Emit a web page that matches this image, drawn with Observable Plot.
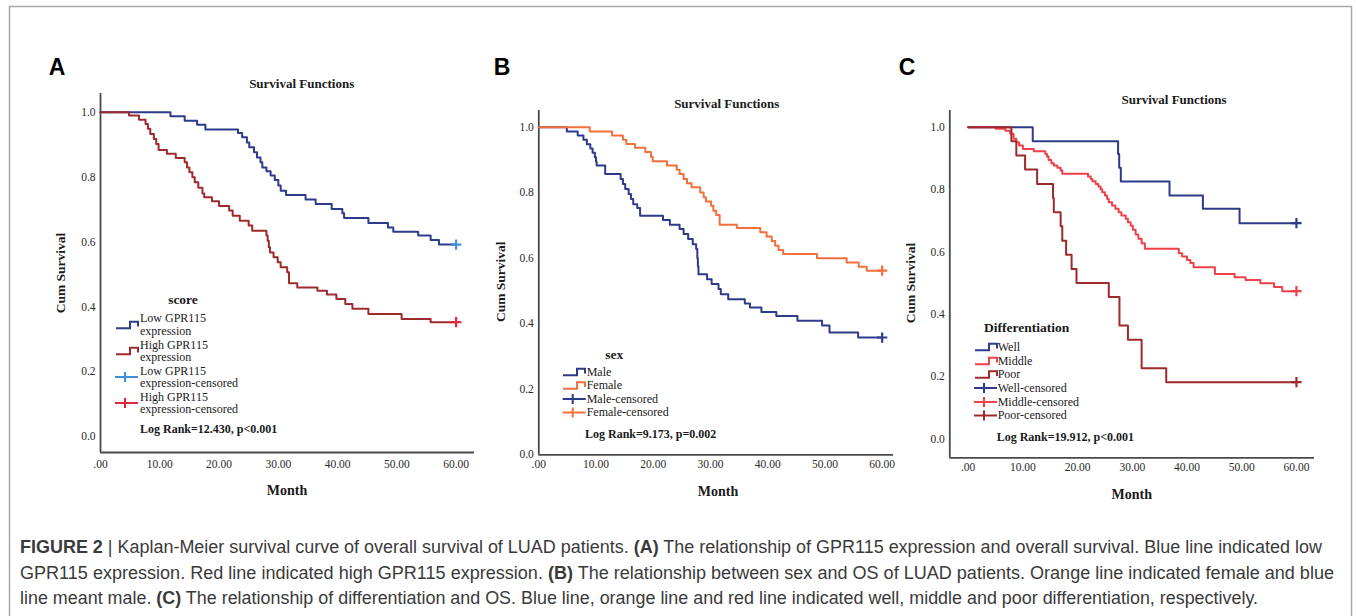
<!DOCTYPE html>
<html><head><meta charset="utf-8">
<script src="https://cdn.jsdelivr.net/npm/d3@7"></script>
<script src="https://cdn.jsdelivr.net/npm/@observablehq/plot@0.6"></script>
<style>
body{margin:0;background:#fff;}
#fig{position:relative;width:1357px;height:616px;overflow:hidden;background:#fff;}
#fig svg{position:absolute;left:0;top:0;}
</style></head><body><div id="fig"></div>
<script>
// ---------- tick labels ----------
const xTicks = [0, 10, 20, 30, 40, 50, 60];
const xTickLabels = [".00", "10.00", "20.00", "30.00", "40.00", "50.00", "60.00"];
const yTicks = [0, 0.2, 0.4, 0.6, 0.8, 1.0];
const yTickLabels = ["0.0", "0.2", "0.4", "0.6", "0.8", "1.0"];
const followUpEnd = 60;

// ---------- Panel A : score ----------
const aGroups = ["Low GPR115 expression", "High GPR115 expression"];
const aLowT = [11.8,14.2,16.3,17.7,23.2,23.9,24.7,25.1,25.9,26.4,27.0,27.3,28.0,28.7,29.4,30.0,30.4,31.3,34.6,36.3,39.0,40.8,41.1,45.2,48.5,49.4,53.6,55.7,57.1];
const aLowS = [0.988,0.974,0.962,0.947,0.936,0.923,0.907,0.892,0.877,0.861,0.846,0.830,0.818,0.805,0.791,0.774,0.758,0.745,0.731,0.717,0.702,0.689,0.674,0.659,0.645,0.632,0.620,0.606,0.592];
const aHighT = [4.8,6.5,7.6,8.0,8.4,9.0,9.4,9.8,11.2,12.7,14.2,14.6,15.0,15.5,15.9,16.5,17.2,17.5,18.8,20.0,21.7,22.3,23.5,25.0,25.6,28.0,28.2,28.4,28.6,29.2,29.9,30.4,31.5,31.8,33.2,36.6,38.2,39.8,41.3,42.5,45.2,50.8,55.7];
const aHighS = [0.990,0.977,0.964,0.949,0.933,0.918,0.902,0.884,0.872,0.859,0.846,0.830,0.815,0.800,0.784,0.767,0.750,0.738,0.726,0.711,0.697,0.681,0.666,0.651,0.635,0.620,0.604,0.584,0.568,0.553,0.538,0.522,0.507,0.473,0.460,0.450,0.438,0.424,0.409,0.394,0.378,0.363,0.353];
const aLogRank = "Log Rank=12.430, p<0.001";

// ---------- Panel B : sex ----------
const bGroups = ["Male", "Female"];
const bMaleT = [4.9,6.8,7.8,8.4,9.0,9.4,9.8,10.0,10.1,11.6,14.3,14.7,15.1,15.7,16.1,16.5,17.2,17.7,21.7,22.9,24.6,25.3,26.1,26.9,27.5,27.7,27.8,27.9,29.4,30.2,31.4,31.8,33.1,36.0,36.9,38.9,41.5,45.2,49.5,50.8,55.8];
const bMaleS = [0.987,0.975,0.962,0.948,0.935,0.922,0.908,0.895,0.883,0.857,0.842,0.827,0.811,0.796,0.781,0.765,0.753,0.730,0.717,0.702,0.689,0.674,0.659,0.643,0.628,0.600,0.575,0.551,0.536,0.521,0.506,0.490,0.475,0.462,0.450,0.436,0.424,0.409,0.395,0.373,0.358];
const bFemaleT = [8.9,12.8,14.7,15.3,16.8,18.6,19.6,19.9,22.4,24.1,24.6,25.3,25.9,26.7,28.2,28.8,29.2,30.1,30.5,31.0,31.6,34.6,38.7,39.8,40.7,41.3,41.9,42.7,48.6,53.8,55.9,57.3];
const bFemaleS = [0.987,0.975,0.962,0.949,0.937,0.924,0.910,0.896,0.883,0.870,0.857,0.842,0.829,0.817,0.801,0.786,0.773,0.760,0.745,0.732,0.702,0.692,0.679,0.666,0.653,0.638,0.625,0.613,0.600,0.587,0.574,0.562];
const bLogRank = "Log Rank=9.173, p=0.002";

// ---------- Panel C : differentiation ----------
const cGroups = ["Well", "Middle", "Poor"];
const cWellT = [11.8,27.4,27.6,27.9,36.8,42.9,49.6];
const cWellS = [0.955,0.914,0.870,0.826,0.781,0.738,0.692];
const cMiddleT = [5.0,6.8,7.7,8.3,8.8,9.3,10.0,12.0,14.1,14.4,14.7,15.2,15.65,16.3,16.9,17.2,21.9,22.4,22.7,23.3,23.8,24.2,24.5,25.0,25.4,25.7,26.3,26.9,27.5,28.0,28.8,29.2,29.7,30.1,30.6,31.1,31.7,32.3,38.5,39.1,40.0,40.6,41.2,45.1,48.7,50.7,53.4,55.9,57.4];
const cMiddleS = [0.995,0.989,0.979,0.963,0.952,0.941,0.930,0.923,0.914,0.906,0.895,0.884,0.877,0.870,0.861,0.851,0.842,0.834,0.827,0.818,0.810,0.801,0.791,0.781,0.770,0.759,0.749,0.738,0.727,0.717,0.706,0.695,0.684,0.671,0.656,0.642,0.628,0.610,0.596,0.585,0.574,0.564,0.551,0.529,0.519,0.510,0.499,0.487,0.474];
const cPoorT = [7.9,8.8,10.4,12.6,15.5,15.65,16.9,17.2,17.9,18.9,19.8,25.7,27.65,29.2,31.7,36.2];
const cPoorS = [0.955,0.909,0.864,0.818,0.773,0.727,0.682,0.636,0.591,0.545,0.500,0.455,0.364,0.318,0.227,0.182];
const cLogRank = "Log Rank=19.912, p<0.001";

// ---------- texts ----------
const panelLetters = ["A", "B", "C"];
const chartTitle = "Survival Functions";
const yLabel = "Cum Survival";
const xLabel = "Month";
const captionLines = [
  [["FIGURE 2", true], [" | Kaplan-Meier survival curve of overall survival of LUAD patients. ", false], ["(A)", true], [" The relationship of GPR115 expression and overall survival. Blue line indicated low", false]],
  [["GPR115 expression. Red line indicated high GPR115 expression. ", false], ["(B)", true], [" The relationship between sex and OS of LUAD patients. Orange line indicated female and blue", false]],
  [["line meant male. ", false], ["(C)", true], [" The relationship of differentiation and OS. Blue line, orange line and red line indicated well, middle and poor differentiation, respectively.", false]]
];

// ---------- colours ----------
const NAVY = "#2e3a8a", DARKRED = "#9f2a2d", LIGHTBLUE = "#3f8fdb", BRIGHTRED = "#dd2840", ORANGE = "#f3703d", PINKRED = "#ee414a";

const W = 1357, H = 520;
const fig = d3.select("#fig");
const ov = fig.append("svg").attr("width", 1357).attr("height", 616);
ov.append("rect").attr("x", 9.5).attr("y", 6.5).attr("width", 1342).attr("height", 640)
  .attr("fill", "none").attr("stroke", "#a8a8a8").attr("stroke-width", 1.5);

function txt(x, y, s, o = {}) {
  const t = ov.append("text").attr("x", x).attr("y", y).text(s)
    .attr("font-family", o.family || "'Liberation Serif', 'Times New Roman', serif")
    .attr("font-size", o.size || 12).attr("font-weight", o.weight || "normal")
    .attr("text-anchor", o.anchor || "start").attr("dominant-baseline", "central")
    .attr("fill", o.fill || "#1a1a1a");
  if (o.rotate) t.attr("transform", `rotate(${o.rotate},${x},${y})`);
  return t;
}
function stepSwatch(x0, y, color) {
  ov.append("path").attr("d", `M${x0},${y + 3.2}H${x0 + 14}V${y - 3.2}H${x0 + 22}V${y + 1.5}`)
    .attr("fill", "none").attr("stroke", color).attr("stroke-width", 2);
}
function censSwatch(x0, y, color) {
  ov.append("path").attr("d", `M${x0},${y}H${x0 + 23}M${x0 + 10},${y - 5}V${y + 5}`)
    .attr("fill", "none").attr("stroke", color).attr("stroke-width", 2);
}

function panel(cfg) {
  const rows = [], cens = [];
  cfg.series.forEach(se => {
    rows.push({m: 0, s: 1, g: se.name});
    se.t.forEach((t, i) => rows.push({m: t, s: se.s[i], g: se.name}));
    const last = se.s[se.s.length - 1];
    rows.push({m: followUpEnd, s: last, g: se.name});
    cens.push({m: followUpEnd, s: last, g: se.name + "-censored"});
  });
  const p = Plot.plot({
    width: W, height: H,
    marginLeft: cfg.xr[0], marginRight: W - cfg.xr[1], marginTop: cfg.yr[1], marginBottom: H - cfg.yr[0],
    x: {domain: cfg.xd},
    y: {domain: cfg.yd},
    color: {domain: cfg.colorDomain, range: cfg.colorRange},
    style: {background: "transparent", fontFamily: "'Liberation Serif', 'Times New Roman', serif", fontSize: "11.5px", color: "#2a2a2a", overflow: "visible"},
    marks: [
      Plot.axisX({ticks: xTicks, tickFormat: d => xTickLabels[xTicks.indexOf(d)], tickSize: 0, tickPadding: cfg.xpad, label: null}),
      Plot.axisY({ticks: yTicks, tickFormat: d => yTickLabels[yTicks.indexOf(d)], tickSize: 0, tickPadding: 5, label: null, fontSize: 11.5}),
      Plot.ruleX([cfg.xd[0]], {stroke: "#4a4a4a", strokeWidth: 1.8}),
      Plot.ruleY([cfg.yd[0]], {stroke: "#4a4a4a", strokeWidth: 1.8}),
      Plot.line(rows, {x: "m", y: "s", z: "g", stroke: "g", curve: "step-after", strokeWidth: 2}),
      Plot.dot(cens, {x: "m", y: "s", stroke: "g", symbol: "plus", r: 3.4, strokeWidth: 2.2})
    ]
  });
  fig.node().appendChild(p);
}

// Panel A
panel({
  xr: [100, 474], yr: [452, 93], xd: [0, 63.1], yd: [-0.049, 1.058], xpad: 7,
  colorDomain: [aGroups[0], aGroups[1], aGroups[0] + "-censored", aGroups[1] + "-censored"],
  colorRange: [NAVY, DARKRED, LIGHTBLUE, BRIGHTRED],
  series: [{name: aGroups[0], t: aLowT, s: aLowS}, {name: aGroups[1], t: aHighT, s: aHighS}]
});
// Panel B
panel({
  xr: [538.3, 893], yr: [454.3, 110], xd: [0, 61.98], yd: [0, 1.051], xpad: 5,
  colorDomain: [bGroups[0], bGroups[1], bGroups[0] + "-censored", bGroups[1] + "-censored"],
  colorRange: [NAVY, ORANGE, NAVY, ORANGE],
  series: [{name: bGroups[0], t: bMaleT, s: bMaleS}, {name: bGroups[1], t: bFemaleT, s: bFemaleS}]
});
// Panel C
panel({
  xr: [949.3, 1314], yr: [457.3, 110], xd: [-3.36, 63.3], yd: [-0.0606, 1.0536], xpad: 5.5,
  colorDomain: [cGroups[0], cGroups[1], cGroups[2], cGroups[0] + "-censored", cGroups[1] + "-censored", cGroups[2] + "-censored"],
  colorRange: [NAVY, PINKRED, DARKRED, NAVY, PINKRED, DARKRED],
  series: [{name: cGroups[0], t: cWellT, s: cWellS}, {name: cGroups[1], t: cMiddleT, s: cMiddleS}, {name: cGroups[2], t: cPoorT, s: cPoorS}]
});

// panel letters, titles, axis labels
const sans = "'Liberation Sans', Arial, sans-serif";
[[57, 67], [502, 67], [907, 67]].forEach((p, i) => txt(p[0], p[1], panelLetters[i], {family: sans, size: 23, weight: "bold", anchor: "middle", fill: "#000"}));
[[301.7, 83], [726.7, 103], [1174, 99]].forEach(p => txt(p[0], p[1], chartTitle, {size: 13, weight: "bold", anchor: "middle"}));
[[60.7, 273], [500.7, 281.7], [910.7, 283]].forEach(p => txt(p[0], p[1], yLabel, {size: 13.5, weight: "bold", anchor: "middle", rotate: -90}));
[[287, 490], [718, 491.7], [1131.7, 494]].forEach(p => txt(p[0], p[1], xLabel, {size: 14, weight: "bold", anchor: "middle"}));

// Legend A
txt(183, 299, "score", {size: 13.5, weight: "bold", anchor: "middle"});
stepSwatch(116, 325, NAVY);
txt(140, 318, "Low GPR115"); txt(140, 331, "expression");
stepSwatch(116, 351, DARKRED);
txt(140, 345, "High GPR115"); txt(140, 357, "expression");
censSwatch(115, 377, LIGHTBLUE);
txt(140, 371, "Low GPR115"); txt(140, 383, "expression-censored");
censSwatch(115, 403, BRIGHTRED);
txt(140, 397, "High GPR115"); txt(140, 409, "expression-censored");
txt(140, 429, aLogRank, {weight: "bold"});

// Legend B
txt(614.3, 354, "sex", {size: 13.5, weight: "bold", anchor: "middle"});
stepSwatch(563, 372, NAVY); txt(586.7, 371.7, bGroups[0]);
stepSwatch(563, 385.5, ORANGE); txt(586.7, 385, bGroups[1]);
censSwatch(562.7, 399, NAVY); txt(586.7, 399, bGroups[0] + "-censored");
censSwatch(562.7, 412.5, ORANGE); txt(586.7, 412.3, bGroups[1] + "-censored");
txt(585, 434, bLogRank, {weight: "bold"});

// Legend C
txt(1026.7, 327.7, "Differentiation", {size: 13.5, weight: "bold", anchor: "middle"});
stepSwatch(975, 347, NAVY); txt(997.7, 346.7, cGroups[0]);
stepSwatch(975, 361, PINKRED); txt(997.7, 361, cGroups[1]);
stepSwatch(975, 374.5, DARKRED); txt(997.7, 374.3, cGroups[2]);
censSwatch(974, 388, NAVY); txt(997.7, 387.7, cGroups[0] + "-censored");
censSwatch(974, 402, PINKRED); txt(997.7, 401.7, cGroups[1] + "-censored");
censSwatch(974, 415.5, DARKRED); txt(997.7, 415, cGroups[2] + "-censored");
txt(996.7, 437.3, cLogRank, {weight: "bold"});

// Caption
const capY = [553, 579, 604], capLen = [1302, 1314, 1238];
captionLines.forEach((line, i) => {
  const t = ov.append("text").attr("x", 20).attr("y", capY[i])
    .attr("font-family", sans).attr("font-size", 17.5).attr("fill", "#3a3a3a")
    .attr("textLength", capLen[i]).attr("lengthAdjust", "spacingAndGlyphs");
  line.forEach(([s, b]) => t.append("tspan").attr("font-weight", b ? "bold" : "normal").text(s));
});
</script>
</body></html>
